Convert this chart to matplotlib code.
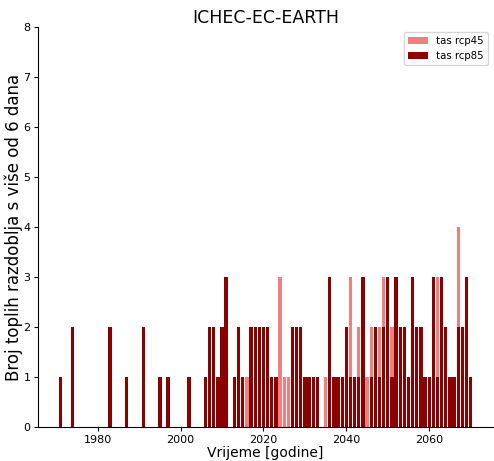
import matplotlib
matplotlib.use("Agg")
import matplotlib.pyplot as plt

# years on the x axis
years = list(range(1971, 2071))

# historical part (1971-2005), same for both scenarios
hist = [1, 0, 0, 2, 0, 0, 0, 0, 0,
        0, 0, 0, 2, 0, 0, 0, 1, 0, 0,
        0, 2, 0, 0, 0, 1, 0, 1, 0, 0,
        0, 0, 1, 0, 0, 0]

# 2006-2070
rcp45_future = [1, 2, 1, 1, 1, 2, 0, 1, 1, 1,
                1, 1, 2, 1, 2, 1, 1, 1, 3, 1,
                1, 1, 2, 1, 1, 0, 1, 1, 0, 1,
                1, 1, 0, 1, 2, 3, 1, 2, 1, 1,
                2, 2, 2, 3, 2, 2, 1, 2, 2, 1,
                2, 1, 2, 1, 1, 2, 3, 1, 2, 1,
                1, 4, 1, 2, 1]
rcp85_future = [1, 2, 2, 1, 2, 3, 0, 1, 2, 1,
                0, 2, 2, 2, 2, 2, 1, 1, 0, 0,
                0, 2, 2, 2, 1, 1, 1, 1, 0, 0,
                3, 1, 1, 1, 2, 1, 1, 1, 3, 0,
                1, 2, 1, 2, 3, 1, 3, 2, 2, 1,
                3, 2, 2, 1, 1, 3, 1, 3, 2, 1,
                1, 2, 2, 3, 1]

rcp45 = hist + rcp45_future
rcp85 = hist + rcp85_future

plt.figure(figsize=(4.94, 4.61), dpi=100)
ax = plt.gca()
plt.subplots_adjust(left=0.077, right=0.998, bottom=0.074, top=0.941)

plt.bar(years, rcp45, width=0.8, color="lightcoral", label="tas rcp45")
plt.bar(years, rcp85, width=0.8, color="darkred", label="tas rcp85")

plt.ylim(0, 8)
plt.yticks(range(0, 9))
plt.xticks([1980, 2000, 2020, 2040, 2060])
ax.tick_params(labelsize=8, length=3, pad=2.5)
ax.spines["top"].set_visible(False)
ax.spines["right"].set_visible(False)

plt.title("ICHEC-EC-EARTH", fontsize=12.5, pad=3)
plt.xlabel("Vrijeme [godine]", fontsize=10, labelpad=1)
plt.ylabel("Broj toplih razdoblja s više od 6 dana", fontsize=12, labelpad=0)
plt.legend(loc="upper right", fontsize=7.3)

plt.savefig("out.png", dpi=100)
plt.close()
